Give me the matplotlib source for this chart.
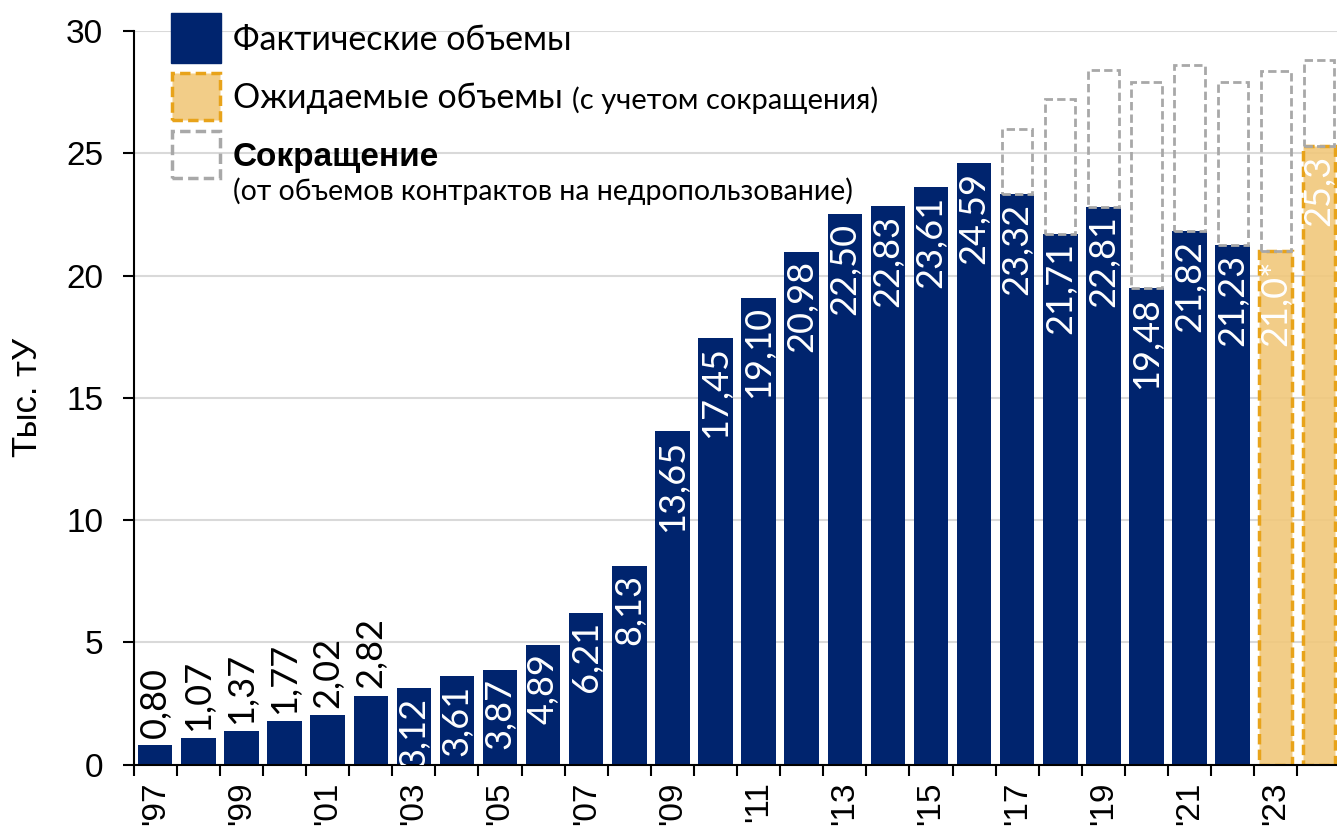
import matplotlib
matplotlib.use("Agg")
import matplotlib.pyplot as plt
from matplotlib.patches import Rectangle
import numpy as np

years = ["'97", "'98", "'99", "'00", "'01", "'02", "'03", "'04", "'05", "'06", "'07", "'08", "'09",
         "'10", "'11", "'12", "'13", "'14", "'15", "'16", "'17", "'18", "'19", "'20", "'21", "'22",
         "'23", "'24"]
actual = [0.80, 1.07, 1.37, 1.77, 2.02, 2.82, 3.12, 3.61, 3.87, 4.89, 6.21, 8.13, 13.65,
          17.45, 19.10, 20.98, 22.50, 22.83, 23.61, 24.59, 23.32, 21.71, 22.81, 19.48, 21.82, 21.23]
expected = [21.0, 25.3]
expected_labels = ["21,0*", "25,3"]
contract = [26.0, 27.2, 28.4, 27.9, 28.6, 27.9, 28.35, 28.8]  # years '17 .. '24
contract_start = 20

legend_main = ["Фактические объемы", "Ожидаемые объемы", "Сокращение"]
legend_sub = ["", "(с учетом сокращения)", "(от объемов контрактов на недропользование)"]

BLUE = "#00246E"
ORANGE_FACE = (0.945, 0.78, 0.47, 0.88)
ORANGE_EDGE = "#E8A31A"
GRAY = "#A8A8A8"
LABEL_FONT = ["Lato", "DejaVu Sans"]
LBL_SIZE = 26

fig = plt.figure(figsize=(13.37, 8.38), dpi=100)
ax = fig.add_axes([0.1, 0.0877, 0.9, 0.963 - 0.0877])
ax.set_xlim(-0.5, 27.42)
ax.set_ylim(0, 30)

w = 0.8
x_act = np.arange(len(actual))
x_exp = np.arange(len(actual), len(actual) + len(expected))

ax.yaxis.grid(True, color="#D9D9D9", lw=1.5, zorder=0)
ax.set_axisbelow(True)

ax.bar(x_act, actual, width=w, color=BLUE, zorder=2, linewidth=0)
ax.bar(x_exp, expected, width=w * 0.95, color=ORANGE_FACE, edgecolor=ORANGE_EDGE,
       linewidth=2.5, linestyle=(0, (3, 1.5)), zorder=2)

# reduction boxes (dashed gray)
base_all = actual + expected
for i, top in enumerate(contract):
    xi = contract_start + i
    b = base_all[xi]
    ax.bar(xi, top - b, bottom=b, width=w * 0.88, fill=False, edgecolor=GRAY,
           linewidth=2, linestyle=(0, (3, 1.5)), zorder=3)

# value labels
for xi, v in zip(x_act, actual):
    s = f"{v:.2f}".replace(".", ",")
    if v < 3:
        ax.text(xi, v + 0.3, s, rotation=90, ha="center", va="bottom",
                fontsize=LBL_SIZE, color="black", family=LABEL_FONT, zorder=5)
    else:
        ax.text(xi, v - 0.35, s, rotation=90, ha="center", va="top",
                fontsize=LBL_SIZE, color="white", family=LABEL_FONT,
                zorder=5, clip_on=True)
for xi, v, s in zip(x_exp, expected, expected_labels):
    ax.text(xi, v - 0.35, s, rotation=90, ha="center", va="top",
            fontsize=LBL_SIZE, color="white", family=LABEL_FONT,
            zorder=5, clip_on=True)

# axes styling
for sp in ["top", "right"]:
    ax.spines[sp].set_visible(False)
ax.spines["left"].set_linewidth(1.5)
ax.spines["bottom"].set_linewidth(1.5)
ax.set_yticks([0, 5, 10, 15, 20, 25, 30])
ax.tick_params(axis="y", labelsize=24, length=8, width=1.5, pad=14)
ax.set_xticks(np.arange(0, 28, 2))
ax.set_xticklabels(years[::2], rotation=90, fontsize=24)
ax.set_xticks(np.arange(-0.5, 27.5, 1), minor=True)
ax.tick_params(axis="x", which="major", length=0, pad=12)
ax.tick_params(axis="x", which="minor", length=8, width=1.5)
for lab in ax.get_yticklabels() + ax.get_xticklabels():
    lab.set_family("Liberation Sans")
ax.set_ylabel("Тыс. тУ", fontsize=25, family="Liberation Sans", labelpad=16)

# legend (custom)
def fig_box(x0, y0, x1, y1, **kw):
    # pixel coords from top-left
    W, H = 1337, 838
    r = Rectangle((x0 / W, 1 - y1 / H), (x1 - x0) / W, (y1 - y0) / H,
                  transform=fig.transFigure, **kw)
    fig.add_artist(r)

fig_box(171, 13, 221, 63, facecolor=BLUE, edgecolor=BLUE, lw=1)
fig_box(172, 73, 220, 120, facecolor=ORANGE_FACE, edgecolor=ORANGE_EDGE, lw=2.5,
        linestyle=(0, (3, 1.5)))
fig_box(172, 131, 220, 178, facecolor="none", edgecolor=GRAY, lw=2.5,
        linestyle=(0, (3, 1.5)))

H = 838
fig.text(233 / 1337, 1 - 40 / H, legend_main[0], fontsize=24.5, family=LABEL_FONT,
         va="center", ha="left")
t = fig.text(233 / 1337, 1 - 98 / H, legend_main[1] + " ", fontsize=24.5, family=LABEL_FONT,
             va="center", ha="left")
fig.canvas.draw()
bb = t.get_window_extent()
fig.text(bb.x1 / fig.bbox.width, 1 - 100 / H, legend_sub[1], fontsize=21, family=LABEL_FONT,
         va="center", ha="left")
fig.text(233 / 1337, 1 - 157 / H, legend_main[2], fontsize=24, family="Liberation Sans",
         weight="bold", va="center", ha="left")
fig.text(233 / 1337, 1 - 191 / H, legend_sub[2], fontsize=20.5, family=LABEL_FONT,
         va="center", ha="left")

fig.savefig("out.png", dpi=100)
